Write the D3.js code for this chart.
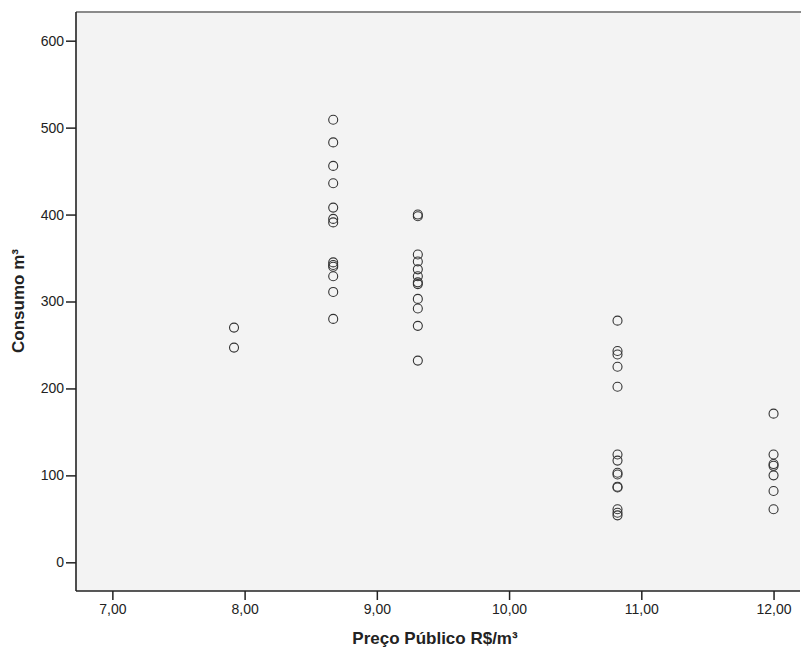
<!DOCTYPE html>
<html>
<head>
<meta charset="utf-8">
<script src="https://cdn.jsdelivr.net/npm/d3@7"></script>
<style>
  body { margin: 0; background: #fff; }
  text { font-family: "Liberation Sans", Arial, sans-serif; }
</style>
</head>
<body>
<svg id="chart" width="801" height="650"></svg>
<script>
// preço por m3 e consumo
var precos = [7.92, 8.67, 9.31, 10.82, 12.00];
var consumo792 = [270, 247];
var consumo867 = [509, 483, 456, 436, 408, 395, 391, 345, 342, 340, 329, 311, 280];
var consumo931 = [400, 398, 354, 346, 337, 329, 322, 320, 303, 292, 272, 232];
var consumo1082 = [278, 243, 239, 225, 202, 124, 117, 103, 101, 87, 86, 61, 57, 54];
var consumo1200 = [171, 124, 113, 111, 100, 82, 61];
var xTicks = [7, 8, 9, 10, 11, 12];
var yTicks = [0, 100, 200, 300, 400, 500, 600];

var series = [consumo792, consumo867, consumo931, consumo1082, consumo1200];
var pontos = [];
series.forEach(function(vals, i) {
  vals.forEach(function(v) { pontos.push({x: precos[i], y: v}); });
});

var svg = d3.select("#chart");
var mLeft = 76, mRight = 800, mTop = 12, mBottom = 591;

var x = d3.scaleLinear().domain([6.725, 12.2]).range([mLeft, mRight]);
var y = d3.scaleLinear().domain([-33, 633]).range([mBottom, mTop]);

svg.append("rect")
    .attr("x", mLeft).attr("y", mTop)
    .attr("width", mRight - mLeft).attr("height", mBottom - mTop)
    .attr("fill", "#f3f3f3");

// borda superior cinza
svg.append("line")
    .attr("x1", mLeft).attr("x2", mRight + 1)
    .attr("y1", mTop).attr("y2", mTop)
    .attr("stroke", "#8a8a8a").attr("stroke-width", 2);

var fmt = function(d) { return d3.format(".2f")(d).replace(".", ","); };

var xAxis = svg.append("g")
    .attr("transform", "translate(0," + mBottom + ")")
    .call(d3.axisBottom(x).tickValues(xTicks).tickFormat(fmt).tickSize(9).tickPadding(4));

var yAxis = svg.append("g")
    .attr("transform", "translate(" + mLeft + ",0)")
    .call(d3.axisLeft(y).tickValues(yTicks).tickSize(10).tickPadding(2));

[xAxis, yAxis].forEach(function(g) {
  g.select(".domain").attr("stroke", "#222").attr("stroke-width", 1.6);
  g.selectAll(".tick line").attr("stroke", "#222").attr("stroke-width", 1.5);
  g.selectAll(".tick text")
      .attr("fill", "#222")
      .style("font-size", "14px");
});
xAxis.select(".domain").attr("d", "M" + mLeft + ",0H" + mRight);
yAxis.select(".domain").attr("d", "M0," + mTop + "V" + mBottom);

svg.append("g")
  .selectAll("circle")
  .data(pontos)
  .enter().append("circle")
    .attr("cx", function(d) { return x(d.x); })
    .attr("cy", function(d) { return y(d.y); })
    .attr("r", 4.5)
    .attr("fill", "none")
    .attr("stroke", "#333")
    .attr("stroke-width", 1.1);

svg.append("text")
    .attr("x", 435)
    .attr("y", 644)
    .attr("text-anchor", "middle")
    .style("font-size", "17px")
    .style("font-weight", "bold")
    .attr("fill", "#222")
    .text("Preço Público R$/m³");

svg.append("text")
    .attr("transform", "translate(24,301) rotate(-90)")
    .attr("text-anchor", "middle")
    .style("font-size", "17px")
    .style("font-weight", "bold")
    .attr("fill", "#222")
    .text("Consumo m³");
</script>
</body>
</html>
